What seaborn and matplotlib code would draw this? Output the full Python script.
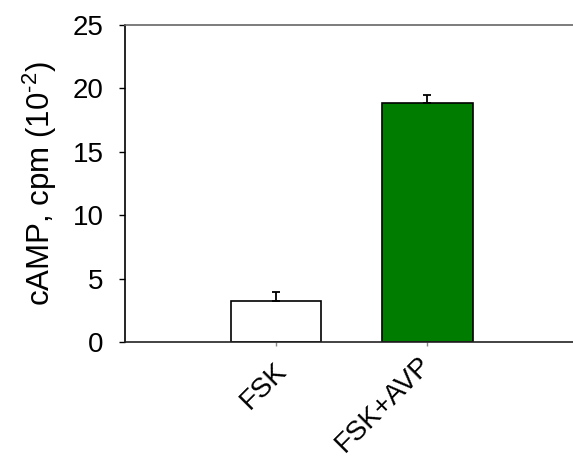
import matplotlib
matplotlib.use("Agg")
import matplotlib.pyplot as plt
import matplotlib.transforms as mtransforms
import seaborn as sns
import pandas as pd

categories = ["FSK", "FSK+AVP"]
camp_values = [3.25, 18.85]
camp_sem = [0.7, 0.6]
bar_colors = ["#ffffff", "#007d00"]

sns.set_style("white")
plt.rcParams["font.family"] = ["Liberation Sans", "DejaVu Sans"]
plt.rcParams["mathtext.fontset"] = "custom"
plt.rcParams["mathtext.rm"] = "Liberation Sans"
plt.rcParams["text.color"] = "black"
plt.rcParams["axes.labelcolor"] = "black"
plt.rcParams["xtick.color"] = "black"
plt.rcParams["ytick.color"] = "black"

df = pd.DataFrame({"condition": categories, "camp": camp_values})

fig = plt.figure(figsize=(5.73, 4.73), dpi=100)
ax = fig.add_axes([124.5 / 573, 131 / 473, 454.5 / 573, 317 / 473])

sns.barplot(data=df, x="condition", y="camp", hue="condition", palette=bar_colors,
            order=categories, hue_order=categories, legend=False, saturation=1,
            width=0.6, edgecolor="black", linewidth=1.2, ax=ax)

# upper error bars only
ax.errorbar(range(len(categories)), camp_values,
            yerr=[[0] * len(camp_sem), camp_sem],
            fmt="none", ecolor="black", elinewidth=1.3, capsize=2.6, capthick=1.3)

ax.set_xlim(-1, 2)
ax.set_ylim(0, 25)
ax.set_yticks([0, 5, 10, 15, 20, 25])
ax.set_xlabel("")
ax.set_ylabel(r"cAMP, cpm (10$^{\mathrm{\text{-}2}}$)", fontsize=22.5, labelpad=10)

ax.tick_params(axis="y", which="major", left=True, length=4, width=1,
               color="black", labelsize=20, pad=11)
ax.tick_params(axis="x", which="major", bottom=True, length=3, width=1,
               color="#888888", labelsize=20, pad=4)
label_shifts = [(-2, -4), (-7, 0)]
for lbl, (dx, dy) in zip(ax.get_xticklabels(), label_shifts):
    lbl.set_rotation(45)
    lbl.set_ha("right")
    lbl.set_rotation_mode("anchor")
    lbl.set_transform(lbl.get_transform() +
                      mtransforms.ScaledTranslation(dx / 72, dy / 72, fig.dpi_scale_trans))

for side in ["left", "bottom", "top"]:
    ax.spines[side].set_visible(True)
    ax.spines[side].set_linewidth(1.2)
ax.spines["left"].set_color("black")
ax.spines["bottom"].set_color("#222222")
ax.spines["top"].set_color("#666666")
ax.spines["right"].set_visible(False)

fig.savefig("out.png", dpi=100)
